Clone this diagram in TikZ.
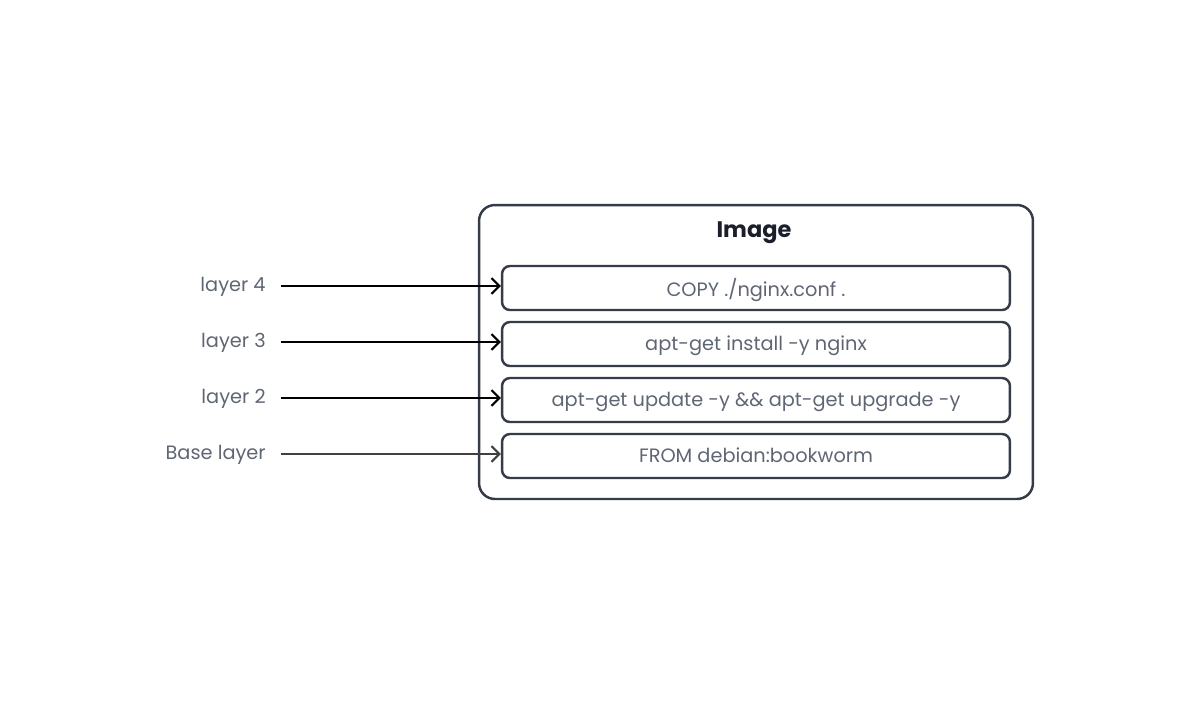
\documentclass[tikz,border=0pt]{standalone}
\usepackage{fontspec}
\setmainfont{Poppins}
\usetikzlibrary{arrows.meta}
\definecolor{boxline}{HTML}{353B48}
\definecolor{txtgray}{HTML}{5F6673}
\definecolor{titleblk}{HTML}{1A1F2B}
\tikzset{
  layerbox/.style={draw=boxline, line width=1.4pt, rounded corners=4.5pt,
    minimum width=10.16cm, minimum height=0.88cm, text=txtgray,
    text depth=0.5pt, font=\fontsize{11}{13}\selectfont},
  imgbox/.style={draw=boxline, line width=1.4pt, rounded corners=9pt,
    minimum width=11.08cm, minimum height=5.88cm},
  lbl/.style={anchor=east, inner xsep=0.3cm, text=txtgray,
    font=\fontsize{11}{13}\selectfont},
  arr/.style={-{Straight Barb[length=4.5pt,width=9pt]}, line width=1.2pt}
}
\begin{document}
\begin{tikzpicture}[x=0.02cm, y=-0.02cm]
    \useasboundingbox (0, 0) rectangle (1196, 704);
    \node[imgbox] (img) at (756, 352) {};
    \node[text=titleblk, font=\bfseries\fontsize{12.8}{15}\selectfont] (title) at (754, 233) {Image};
    \node[layerbox] (c4) at (756, 288) {COPY ./nginx.conf .};
    \node[layerbox] (c3) at (756, 344) {apt-get install -y nginx};
    \node[layerbox] (c2) at (756, 400) {apt-get update -y \&\& apt-get upgrade -y};
    \node[layerbox] (c1) at (756, 456) {FROM debian:bookworm};
    \node[lbl] (l4) at (281, 287) {layer 4};
    \node[lbl] (l3) at (281, 343) {layer 3};
    \node[lbl] (l2) at (281, 399) {layer 2};
    \node[lbl] (l1) at (281, 455) {Base layer};
    \draw [arr] (l4.east) ++(0, -1) to (c4.west |- 0, 286);
    \draw [arr] (l3.east) ++(0, -1) to (c3.west |- 0, 342);
    \draw [arr] (l2.east) ++(0, -1) to (c2.west |- 0, 398);
    \draw [arr, draw=black!75] (l1.east) ++(0, -1) to (c1.west |- 0, 454);
  \end{tikzpicture}
\end{document}
